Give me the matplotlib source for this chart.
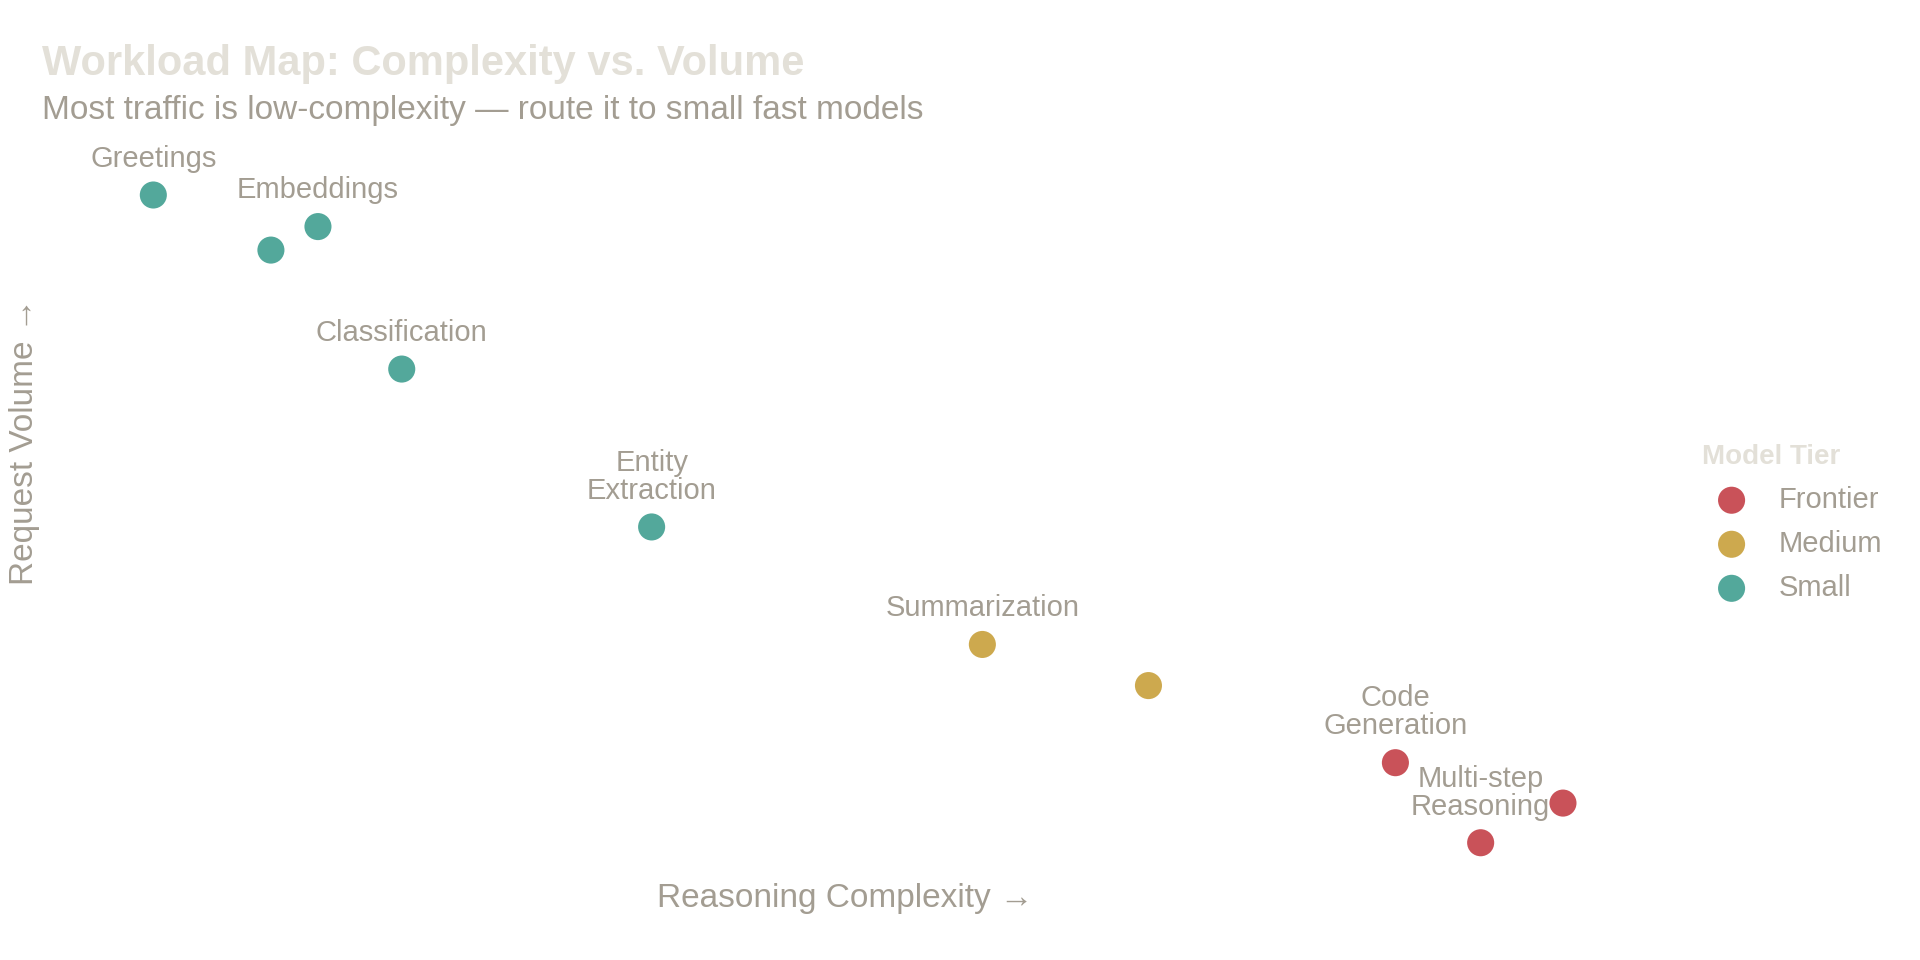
import matplotlib.pyplot as plt

plt.rcParams['font.family'] = ['Liberation Sans', 'DejaVu Sans']

# workload data (complexity, volume)
names = ["Greetings", "", "Embeddings", "Classification", "Entity\nExtraction",
         "Summarization", "", "Code\nGeneration", "Multi-step\nReasoning", ""]
complexity = [2.1, 10.1, 13.3, 19.0, 36.0, 58.5, 69.8, 86.6, 92.4, 98.0]
volume = [93.5, 86.0, 89.2, 69.8, 48.3, 32.3, 26.7, 16.2, 5.3, 10.7]
tiers = ["Small", "Small", "Small", "Small", "Small",
         "Medium", "Medium", "Frontier", "Frontier", "Frontier"]
tier_colors = {"Frontier": "#c0343c", "Medium": "#c59a2f", "Small": "#35998a"}
tier_order = ["Frontier", "Medium", "Small"]

TEXT = "#a39d92"
TITLE = "#e3e0d8"

fig = plt.figure(figsize=(19.2, 9.6), dpi=100)
ax = fig.add_axes([0.0255, 0.0816, 0.823, 0.778])

for t in tier_order:
    xs = [c for c, tt in zip(complexity, tiers) if tt == t]
    ys = [v for v, tt in zip(volume, tiers) if tt == t]
    ax.scatter(xs, ys, s=380, color=tier_colors[t], alpha=0.85, edgecolors='none', label=t)

for n, c, v in zip(names, complexity, volume):
    if n:
        ax.annotate(n, (c, v), xytext=(0, 16), textcoords='offset points',
                    ha='center', va='bottom', fontsize=21, color=TEXT,
                    multialignment='center', linespacing=1.0, clip_on=True)

ax.set_xlim(-5, 102.5)
ax.set_ylim(0, 101.7)
ax.axis('off')

fig.text(0.022, 0.933, "Workload Map: Complexity vs. Volume", fontsize=30,
         fontweight='bold', color=TITLE, va='center')
fig.text(0.022, 0.885, "Most traffic is low-complexity \u2014 route it to small fast models",
         fontsize=24, color=TEXT, va='center')
fig.text(0.44, 0.064, "Reasoning Complexity \u2192", fontsize=24, color=TEXT,
         ha='center', va='center')
fig.text(0.013, 0.54, "Request Volume \u2192", fontsize=24, color=TEXT,
         ha='center', va='center', rotation=90)

leg = fig.legend(loc='upper left', bbox_to_anchor=(0.873, 0.565), frameon=False,
                 title="Model Tier", fontsize=21, title_fontsize=20,
                 labelcolor=TEXT, handletextpad=0.6, labelspacing=0.55)
leg.get_title().set_color(TITLE)
leg.get_title().set_fontweight('bold')
leg._legend_box.align = "left"

fig.savefig("out.png", dpi=100)
